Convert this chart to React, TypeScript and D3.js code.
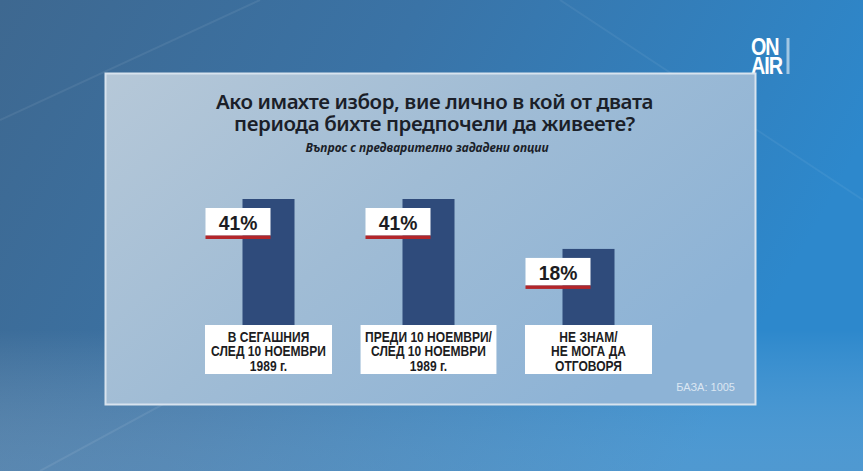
import React from "react";
import * as d3 from "d3";

const categories = ["a", "b", "c"];
const values = [41, 41, 18];
const valueLabels = ["41%", "41%", "18%"];
const categoryLines = [
  ["В СЕГАШНИЯ", "СЛЕД 10 НОЕМВРИ", "1989 г."],
  ["ПРЕДИ 10 НОЕМВРИ/", "СЛЕД 10 НОЕМВРИ", "1989 г."],
  ["НЕ ЗНАМ/", "НЕ МОГА ДА", "ОТГОВОРЯ"],
];
const titleLines = [
  "Ако имахте избор, вие лично в кой от двата",
  "периода бихте предпочели да живеете?",
];
const subtitle = "Въпрос с предварително зададени опции";
const baseNote = "БАЗА: 1005";

const W = 863;
const H = 471;
const ARIAL = "'Liberation Sans', Arial, sans-serif";
const SQUEEZE = 0.86;

function measure(text: string, font: string): number {
  if (typeof document === "undefined") return text.length * 7;
  const c = document.createElement("canvas");
  const ctx = c.getContext("2d");
  if (!ctx) return text.length * 7;
  ctx.font = font;
  return ctx.measureText(text).width;
}

export default function App() {
  const x = d3
    .scaleBand<string>()
    .domain(categories)
    .range([188.5, 668.5])
    .paddingInner(0.675)
    .paddingOuter(0.3375);
  const y = d3.scaleLinear().domain([0, 41]).range([288, 199]);
  const labelTop = 325;
  const labelH = 49;

  return (
    <svg
      width={W}
      height={H}
      viewBox={`0 0 ${W} ${H}`}
      style={{ position: "absolute", left: 0, top: 0, display: "block" }}
      lang="bg"
    >
      <defs>
        <linearGradient id="bg" x1="0" y1="0" x2="1" y2="0.3">
          <stop offset="0" stopColor="#3e6890" />
          <stop offset="0.45" stopColor="#3a73a6" />
          <stop offset="1" stopColor="#2d88cc" />
        </linearGradient>
        <linearGradient id="bgBottom" x1="0" y1="0" x2="0" y2="1">
          <stop offset="0.7" stopColor="#ffffff" stopOpacity="0" />
          <stop offset="1" stopColor="#9fc0dc" stopOpacity="0.3" />
        </linearGradient>
        <linearGradient id="panel" x1="0" y1="0" x2="1" y2="0.6">
          <stop offset="0" stopColor="#b6c8d8" />
          <stop offset="0.5" stopColor="#a0bcd5" />
          <stop offset="1" stopColor="#8db3d6" />
        </linearGradient>
      </defs>
      <rect x={0} y={0} width={W} height={H} fill="url(#bg)" />
      <rect x={0} y={0} width={W} height={H} fill="url(#bgBottom)" />
      <path d="M0,120 L260,0" stroke="#ffffff" strokeOpacity={0.07} strokeWidth={2} />
      <path d="M40,471 L300,330" stroke="#ffffff" strokeOpacity={0.08} strokeWidth={2} />
      <path d="M560,0 L863,200" stroke="#ffffff" strokeOpacity={0.06} strokeWidth={2} />

      {/* ON AIR logo */}
      <g fill="#ffffff" fontFamily={ARIAL} fontWeight={700}>
        <text transform="translate(751,0) scale(0.86,1)" fontSize={23} letterSpacing={-1.2}>
          <tspan x={0} y={55}>ON</tspan>
          <tspan x={0} y={74}>AIR</tspan>
        </text>
        <rect x={786.5} y={38} width={3} height={36} opacity={0.55} />
      </g>

      {/* panel */}
      <rect
        x={105.5}
        y={73.5}
        width={650}
        height={331}
        fill="url(#panel)"
        stroke="#d8e3ee"
        strokeWidth={2}
      />

      {/* title */}
      <g fontFamily="'Noto Sans', 'Liberation Sans', sans-serif" fill="#1b1f29" textAnchor="middle" lang="bg">
        <text fontSize={20.5} fontWeight={600} letterSpacing={-0.4}>
          {titleLines.map((t, i) => (
            <tspan key={i} x={434.5} y={109 + i * 22}>
              {t}
            </tspan>
          ))}
        </text>
        <text x={427} y={152} fontSize={12} fontWeight={700} fontStyle="italic">
          {subtitle}
        </text>
      </g>

      {/* bars */}
      {categories.map((c, i) => {
        const bx = x(c)!;
        const top = y(values[i]);
        return (
          <rect key={c} x={bx} y={top} width={x.bandwidth()} height={labelTop - top} fill="#2f4b7b" />
        );
      })}

      {/* value boxes */}
      {categories.map((c, i) => {
        const bx = x(c)!;
        const top = y(values[i]) + 9;
        return (
          <g key={c}>
            <rect x={bx - 37} y={top} width={65} height={27.5} fill="#ffffff" />
            <rect x={bx - 37} y={top + 27.5} width={65} height={3.5} fill="#b3262a" />
            <text
              transform={`translate(${bx - 4.5},${top + 22}) scale(0.92,1)`}
              textAnchor="middle"
              fontFamily={ARIAL}
              fontWeight={700}
              fontSize={21}
              fill="#1c1c22"
            >
              {valueLabels[i]}
            </text>
          </g>
        );
      })}

      {/* category label boxes */}
      {categories.map((c, i) => {
        const cx = x(c)! + x.bandwidth() / 2;
        const lines = categoryLines[i];
        const tw = Math.max(...lines.map((l) => measure(l, `700 14px ${ARIAL}`))) * SQUEEZE;
        const bw = Math.max(127, tw + 9);
        return (
          <g key={c}>
            <rect x={cx - bw / 2} y={labelTop} width={bw} height={labelH} fill="#ffffff" />
            <text
              transform={`translate(${cx},${labelTop}) scale(${SQUEEZE},1)`}
              textAnchor="middle"
              fontFamily={ARIAL}
              fontWeight={700}
              fontSize={14}
              fill="#1c1c22"
            >
              {lines.map((l, j) => (
                <tspan key={j} x={0} y={17 + j * 14.5}>
                  {l}
                </tspan>
              ))}
            </text>
          </g>
        );
      })}

      <text
        x={735}
        y={391}
        textAnchor="end"
        fontFamily={ARIAL}
        fontSize={11}
        fill="#e8f0f8"
        opacity={0.85}
      >
        {baseNote}
      </text>
    </svg>
  );
}
